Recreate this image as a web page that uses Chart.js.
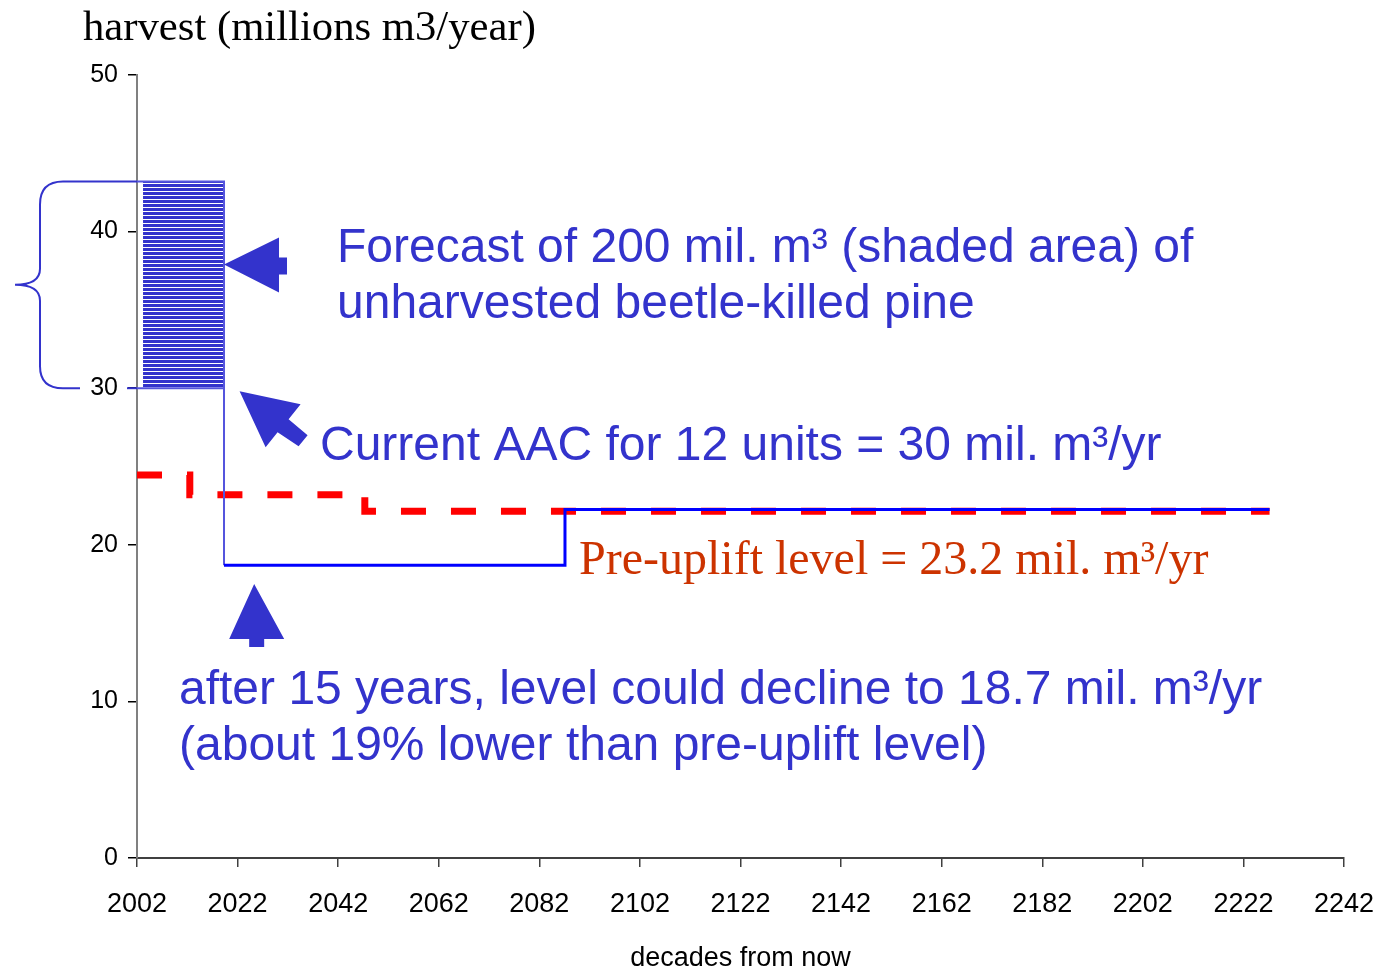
<!DOCTYPE html>
<html>
<head>
<meta charset="utf-8">
<script src="https://cdn.jsdelivr.net/npm/chart.js@4.4.0/dist/chart.umd.min.js"></script>
<style>
html,body{margin:0;padding:0;background:#fff;}
#wrap{width:1387px;height:970px;position:relative;}
</style>
</head>
<body>
<div id="wrap"><canvas id="c" width="1387" height="970"></canvas></div>
<script>
// ---- data ----
const xTicks = [2002, 2022, 2042, 2062, 2082, 2102, 2122, 2142, 2162, 2182, 2202, 2222, 2242];
const yTicks = [0, 10, 20, 30, 40, 50];

const harvestYears  = [2002, 2019.3, 2019.3, 2087.1, 2087.1, 2227.2];
const harvestValues = [43.2, 43.2, 18.7, 18.7, 22.25, 22.25];

const preUpliftYears  = [2002, 2012.5, 2012.5, 2047.3, 2047.3, 2227.2];
const preUpliftValues = [24.45, 24.45, 23.2, 23.2, 22.15, 22.15];

const currentAacYears  = [2002, 2019.3];
const currentAacValues = [30, 30];

const shadedYears  = [2003.2, 2019.3];
const shadedTop    = [43.2, 43.2];
const shadedBottom = 30;

const toPts = (xs, ys) => xs.map((x, i) => ({x: x, y: ys[i]}));

// ---- stripe pattern for the shaded area ----
const pc = document.createElement('canvas');
pc.width = 4; pc.height = 4;
const pctx = pc.getContext('2d');
pctx.fillStyle = '#3333CC';
pctx.fillRect(0, 0, 4, 4);
pctx.fillStyle = '#ffffff';
pctx.fillRect(0, 3, 4, 1);
const stripePattern = document.getElementById('c').getContext('2d').createPattern(pc, 'repeat');

const SANS = '"Liberation Sans", Arial, sans-serif';
const SERIF = '"Liberation Serif", "Times New Roman", serif';
const BLUE_TXT = '#3333CC';

function poly(ctx, ox, oy, pts) {
  ctx.beginPath();
  pts.forEach((p, i) => i ? ctx.lineTo(ox + p[0], oy + p[1]) : ctx.moveTo(ox + p[0], oy + p[1]));
  ctx.closePath();
  ctx.fill();
}

const annotations = {
  id: 'annotations',
  afterDraw(chart) {
    const ctx = chart.ctx;
    const xs = chart.scales.x, ys = chart.scales.y;
    const L = chart.chartArea.left;
    ctx.save();

    // axis title (top-left)
    ctx.fillStyle = '#000';
    ctx.textAlign = 'left';
    ctx.textBaseline = 'alphabetic';
    ctx.font = '42.7px ' + SERIF;
    ctx.fillText('harvest (millions m3/year)', 83, 40);

    // curly brace spanning the shaded range
    const top = ys.getPixelForValue(shadedTop[0]);
    const bot = ys.getPixelForValue(shadedBottom);
    const mid = (top + bot) / 2;
    const bx = L - 97, tipX = L - 122, hx = L - 74;
    ctx.strokeStyle = '#3333CC';
    ctx.lineWidth = 2;
    ctx.beginPath();
    ctx.moveTo(L, top);
    ctx.lineTo(hx, top);
    ctx.quadraticCurveTo(bx, top, bx, top + 23);
    ctx.lineTo(bx, mid - 16);
    ctx.quadraticCurveTo(bx, mid, tipX, mid);
    ctx.quadraticCurveTo(bx, mid, bx, mid + 16);
    ctx.lineTo(bx, bot - 22);
    ctx.quadraticCurveTo(bx, bot, hx, bot);
    ctx.lineTo(L - 57, bot);
    ctx.stroke();
    ctx.beginPath();
    ctx.moveTo(L - 10, bot);
    ctx.lineTo(L, bot);
    ctx.stroke();

    // arrows
    ctx.fillStyle = '#3333CC';
    const a1x = xs.getPixelForValue(2019.3), a1y = ys.getPixelForValue(37.9);
    poly(ctx, a1x, a1y, [[0,0],[55,-27],[55,-7],[63,-7],[63,10],[55,10],[55,28]]);
    const a2x = xs.getPixelForValue(2022.4), a2y = ys.getPixelForValue(29.8);
    poly(ctx, a2x, a2y, [[0,0],[61,13],[49,28],[68,44],[59,55],[38,41],[26,56]]);
    const a3x = xs.getPixelForValue(2025.3), a3y = ys.getPixelForValue(17.5);
    poly(ctx, a3x, a3y, [[0,0],[30,55],[10,55],[10,63],[-5,63],[-5,55],[-25,55]]);

    // blue annotation texts
    ctx.fillStyle = BLUE_TXT;
    ctx.font = '48px ' + SANS;
    ctx.fillText('Forecast of 200 mil. m\u00B3 (shaded area) of', 337, 262);
    ctx.fillText('unharvested beetle-killed pine', 337, 318);
    ctx.fillText('Current AAC for 12 units = 30 mil. m\u00B3/yr', 320, 460);
    ctx.fillText('after 15 years, level could decline to 18.7 mil. m\u00B3/yr', 179, 704);
    ctx.fillText('(about 19% lower than pre-uplift level)', 179, 760);

    // red annotation text
    ctx.fillStyle = '#CC3300';
    ctx.font = '48px ' + SERIF;
    ctx.fillText('Pre-uplift level = 23.2 mil. m\u00B3/yr', 579, 574);

    ctx.restore();
  }
};

new Chart(document.getElementById('c'), {
  type: 'line',
  data: {
    datasets: [
      {
        label: 'harvest',
        data: toPts(harvestYears, harvestValues),
        borderColor: '#0000FF',
        borderWidth: 3,
        pointRadius: 0,
        fill: false,
        tension: 0,
        order: 0,
        segment: {
          borderColor: c => c.p0DataIndex < 2 ? '#5555DD' : '#0000FF',
          borderWidth: c => c.p0DataIndex < 2 ? 2 : 3
        }
      },
      {
        label: 'current AAC',
        data: toPts(currentAacYears, currentAacValues),
        borderColor: '#5555DD',
        borderWidth: 2,
        pointRadius: 0,
        fill: false,
        order: 1
      },
      {
        label: 'pre-uplift',
        data: toPts(preUpliftYears, preUpliftValues),
        borderColor: '#FF0000',
        borderWidth: 7,
        borderDash: [25, 25],
        borderCapStyle: 'butt',
        borderJoinStyle: 'miter',
        pointRadius: 0,
        fill: false,
        order: 2
      },
      {
        label: 'unharvested',
        data: toPts(shadedYears, shadedTop),
        borderWidth: 0,
        borderColor: 'rgba(0,0,0,0)',
        backgroundColor: stripePattern,
        pointRadius: 0,
        fill: {value: shadedBottom},
        order: 3
      }
    ]
  },
  options: {
    responsive: false,
    animation: false,
    devicePixelRatio: 1,
    layout: {padding: {top: 75, right: 43, left: 0, bottom: 0}},
    plugins: {
      legend: {display: false},
      tooltip: {enabled: false},
      title: {display: false}
    },
    scales: {
      x: {
        type: 'linear',
        min: 2002,
        max: 2242,
        afterBuildTicks: s => { s.ticks = xTicks.map(v => ({value: v})); },
        afterFit: s => { s.height = 112; s.paddingLeft = 0; s.paddingRight = 0; },
        ticks: {
          color: '#000',
          font: {family: SANS, size: 27},
          padding: 21,
          maxRotation: 0,
          autoSkip: false,
          callback: v => String(v)
        },
        grid: {drawOnChartArea: false, drawTicks: true, tickLength: 9, color: '#404040', lineWidth: 1.5},
        border: {color: '#404040', width: 2},
        title: {
          display: true,
          text: 'decades from now',
          color: '#000',
          font: {family: SANS, size: 27, lineHeight: 1},
          padding: {top: 0, bottom: -2}
        }
      },
      y: {
        min: 0,
        max: 50,
        afterBuildTicks: s => { s.ticks = yTicks.map(v => ({value: v})); },
        afterFit: s => { s.width = 137; },
        ticks: {
          color: '#000',
          font: {family: SANS, size: 25},
          padding: 10
        },
        grid: {drawOnChartArea: false, drawTicks: true, tickLength: 9, color: '#000', lineWidth: 1.5},
        border: {color: '#808080', width: 2}
      }
    }
  },
  plugins: [annotations]
});
</script>
</body>
</html>
